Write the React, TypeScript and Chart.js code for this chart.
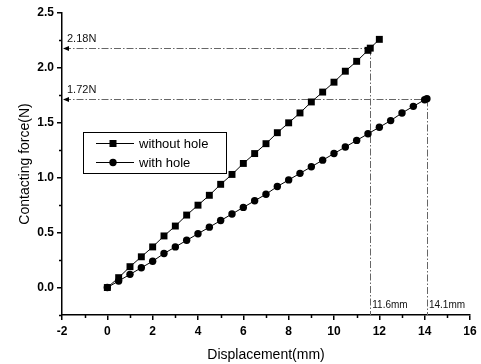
import React, { useEffect, useRef } from "react";
import { Chart, registerables } from "chart.js";

Chart.register(...registerables);

// ---- data ----
const seriesNames = ["without hole", "with hole"];

const withoutHoleX = [0, 0.5, 1, 1.5, 2, 2.5, 3, 3.5, 4, 4.5, 5, 5.5, 6, 6.5, 7, 7.5, 8, 8.5, 9, 9.5, 10, 10.5, 11, 11.5, 11.6, 12];
const withoutHoleY = [0, 0.09, 0.19, 0.28, 0.37, 0.47, 0.56, 0.66, 0.75, 0.84, 0.94, 1.03, 1.13, 1.22, 1.31, 1.41, 1.5, 1.59, 1.69, 1.78, 1.87, 1.97, 2.06, 2.16, 2.18, 2.26];

const withHoleX = [0, 0.5, 1, 1.5, 2, 2.5, 3, 3.5, 4, 4.5, 5, 5.5, 6, 6.5, 7, 7.5, 8, 8.5, 9, 9.5, 10, 10.5, 11, 11.5, 12, 12.5, 13, 13.5, 14, 14.1];
const withHoleY = [0, 0.06, 0.12, 0.18, 0.24, 0.31, 0.37, 0.43, 0.49, 0.55, 0.61, 0.67, 0.73, 0.79, 0.85, 0.92, 0.98, 1.04, 1.1, 1.16, 1.22, 1.28, 1.34, 1.4, 1.46, 1.52, 1.59, 1.65, 1.71, 1.72];

const xTicks = [-2, 0, 2, 4, 6, 8, 10, 12, 14, 16];
const xMinorTicks = [-1, 1, 3, 5, 7, 9, 11, 13, 15];
const yTicks = [0, 0.5, 1, 1.5, 2, 2.5];
const yMinorTicks = [-0.25, 0.25, 0.75, 1.25, 1.75, 2.25];

const forceMarks = [2.18, 1.72];
const forceLabels = ["2.18N", "1.72N"];
const dispMarks = [11.6, 14.1];
const dispLabels = ["11.6mm", "14.1mm"];

const xTitle = "Displacement(mm)";
const yTitle = "Contacting force(N)";

const FONT = '"Liberation Sans", Arial, sans-serif';

const toPoints = (xs: number[], ys: number[]) => xs.map((x, i) => ({ x, y: ys[i] }));

const decorPlugin = {
  id: "decor",
  beforeDatasetsDraw(chart: any) {
    const { ctx, scales, chartArea } = chart;
    const xs = scales.x;
    const ys = scales.y;
    ctx.save();
    // reference lines
    ctx.strokeStyle = "#666";
    ctx.lineWidth = 1;
    ctx.setLineDash([7, 2, 1.5, 2]);
    forceMarks.forEach((f, i) => {
      const py = Math.round(ys.getPixelForValue(f)) + 0.5;
      const px = Math.round(xs.getPixelForValue(dispMarks[i])) + 0.5;
      ctx.beginPath();
      ctx.moveTo(chartArea.left + 2, py);
      ctx.lineTo(px, py);
      ctx.moveTo(px, py);
      ctx.lineTo(px, chartArea.bottom);
      ctx.stroke();
    });
    ctx.setLineDash([]);
    // arrowheads
    ctx.fillStyle = "#000";
    forceMarks.forEach((f) => {
      const py = Math.round(ys.getPixelForValue(f)) + 0.5;
      const x0 = chartArea.left + 1;
      ctx.beginPath();
      ctx.moveTo(x0, py);
      ctx.lineTo(x0 + 6, py - 2.5);
      ctx.lineTo(x0 + 6, py + 2.5);
      ctx.closePath();
      ctx.fill();
    });
    // labels
    ctx.fillStyle = "#111";
    ctx.font = `11px ${FONT}`;
    ctx.textBaseline = "middle";
    ctx.textAlign = "left";
    forceMarks.forEach((f, i) => {
      const py = ys.getPixelForValue(f);
      ctx.fillText(forceLabels[i], chartArea.left + 5, py - 9);
    });
    ctx.font = `10px ${FONT}`;
    dispMarks.forEach((d, i) => {
      const px = xs.getPixelForValue(d);
      ctx.fillText(dispLabels[i], px + 2, chartArea.bottom - 10);
    });
    ctx.restore();
  },
  afterDraw(chart: any) {
    const { ctx, scales, chartArea } = chart;
    const xs = scales.x;
    const ys = scales.y;
    ctx.save();
    // minor ticks
    ctx.strokeStyle = "#000";
    ctx.lineWidth = 1.5;
    ctx.beginPath();
    xMinorTicks.forEach((v) => {
      const px = Math.round(xs.getPixelForValue(v)) + 0.5;
      ctx.moveTo(px, chartArea.bottom);
      ctx.lineTo(px, chartArea.bottom + 3);
    });
    yMinorTicks.forEach((v) => {
      const py = Math.round(ys.getPixelForValue(v)) + 0.5;
      ctx.moveTo(chartArea.left, py);
      ctx.lineTo(chartArea.left - 3, py);
    });
    ctx.stroke();

    // legend
    const bx = 83, by = 132, bw = 143, bh = 41;
    ctx.lineWidth = 1;
    ctx.strokeStyle = "#000";
    ctx.strokeRect(bx + 0.5, by + 0.5, bw, bh);
    const rows = [143, 162];
    const styles = ["rect", "circle"];
    rows.forEach((ry, i) => {
      ctx.beginPath();
      ctx.moveTo(96, ry + 0.5);
      ctx.lineTo(134, ry + 0.5);
      ctx.stroke();
      ctx.fillStyle = "#000";
      if (styles[i] === "rect") {
        ctx.fillRect(113 - 3.5, ry - 3, 7, 7);
      } else {
        ctx.beginPath();
        ctx.arc(113, ry + 0.5, 3.7, 0, Math.PI * 2);
        ctx.fill();
      }
      ctx.font = `13px ${FONT}`;
      ctx.textBaseline = "middle";
      ctx.textAlign = "left";
      ctx.fillText(seriesNames[i], 139, ry + 1);
    });

    // axis titles
    ctx.fillStyle = "#000";
    ctx.font = `14px ${FONT}`;
    ctx.textAlign = "center";
    ctx.textBaseline = "middle";
    ctx.fillText(xTitle, (chartArea.left + chartArea.right) / 2, 355);
    ctx.translate(25, (chartArea.top + chartArea.bottom) / 2);
    ctx.rotate(-Math.PI / 2);
    ctx.fillText(yTitle, 0, 0);
    ctx.restore();
  },
};

export default function App() {
  const ref = useRef<HTMLCanvasElement>(null);
  useEffect(() => {
    document.body.style.margin = "0";
    const canvas = ref.current!;
    const chart = new Chart(canvas, {
      type: "scatter",
      data: {
        datasets: [
          {
            label: seriesNames[0],
            data: toPoints(withoutHoleX, withoutHoleY),
            showLine: true,
            borderColor: "#000",
            borderWidth: 1,
            backgroundColor: "#000",
            pointBackgroundColor: "#000",
            pointBorderWidth: 0,
            pointStyle: "rect",
            pointRadius: 4.9,
          },
          {
            label: seriesNames[1],
            data: toPoints(withHoleX, withHoleY),
            showLine: true,
            borderColor: "#000",
            borderWidth: 1,
            backgroundColor: "#000",
            pointBackgroundColor: "#000",
            pointBorderWidth: 0,
            pointStyle: "circle",
            pointRadius: 3.7,
          },
        ],
      },
      options: {
        animation: false,
        responsive: false,
        devicePixelRatio: 1,
        layout: { padding: { top: 13, right: 11, left: 0, bottom: 0 } },
        plugins: { legend: { display: false }, tooltip: { enabled: false } },
        scales: {
          x: {
            type: "linear",
            min: -2,
            max: 16,
            afterFit: (s: any) => {
              s.height = 49;
            },
            afterBuildTicks: (s: any) => {
              s.ticks = xTicks.map((v) => ({ value: v }));
            },
            ticks: {
              color: "#000",
              font: { family: FONT, size: 12, weight: "bold" },
              padding: 4,
              maxRotation: 0,
              autoSkip: false,
              callback: (v: any) => String(v),
            },
            grid: { drawOnChartArea: false, drawTicks: true, tickLength: 5, color: "#000", lineWidth: 1.5 },
            border: { display: true, color: "#000", width: 1.5 },
          },
          y: {
            type: "linear",
            min: -0.25,
            max: 2.5,
            afterFit: (s: any) => {
              s.width = 62;
            },
            afterBuildTicks: (s: any) => {
              s.ticks = yTicks.map((v) => ({ value: v }));
            },
            ticks: {
              color: "#000",
              font: { family: FONT, size: 12, weight: "bold" },
              padding: 3,
              autoSkip: false,
              callback: (v: any) => Number(v).toFixed(1),
            },
            grid: { drawOnChartArea: false, drawTicks: true, tickLength: 5, color: "#000", lineWidth: 1.5 },
            border: { display: true, color: "#000", width: 1.5 },
          },
        },
      },
      plugins: [decorPlugin],
    });
    return () => chart.destroy();
  }, []);
  return <canvas ref={ref} width={481} height={364} style={{ display: "block" }} />;
}
